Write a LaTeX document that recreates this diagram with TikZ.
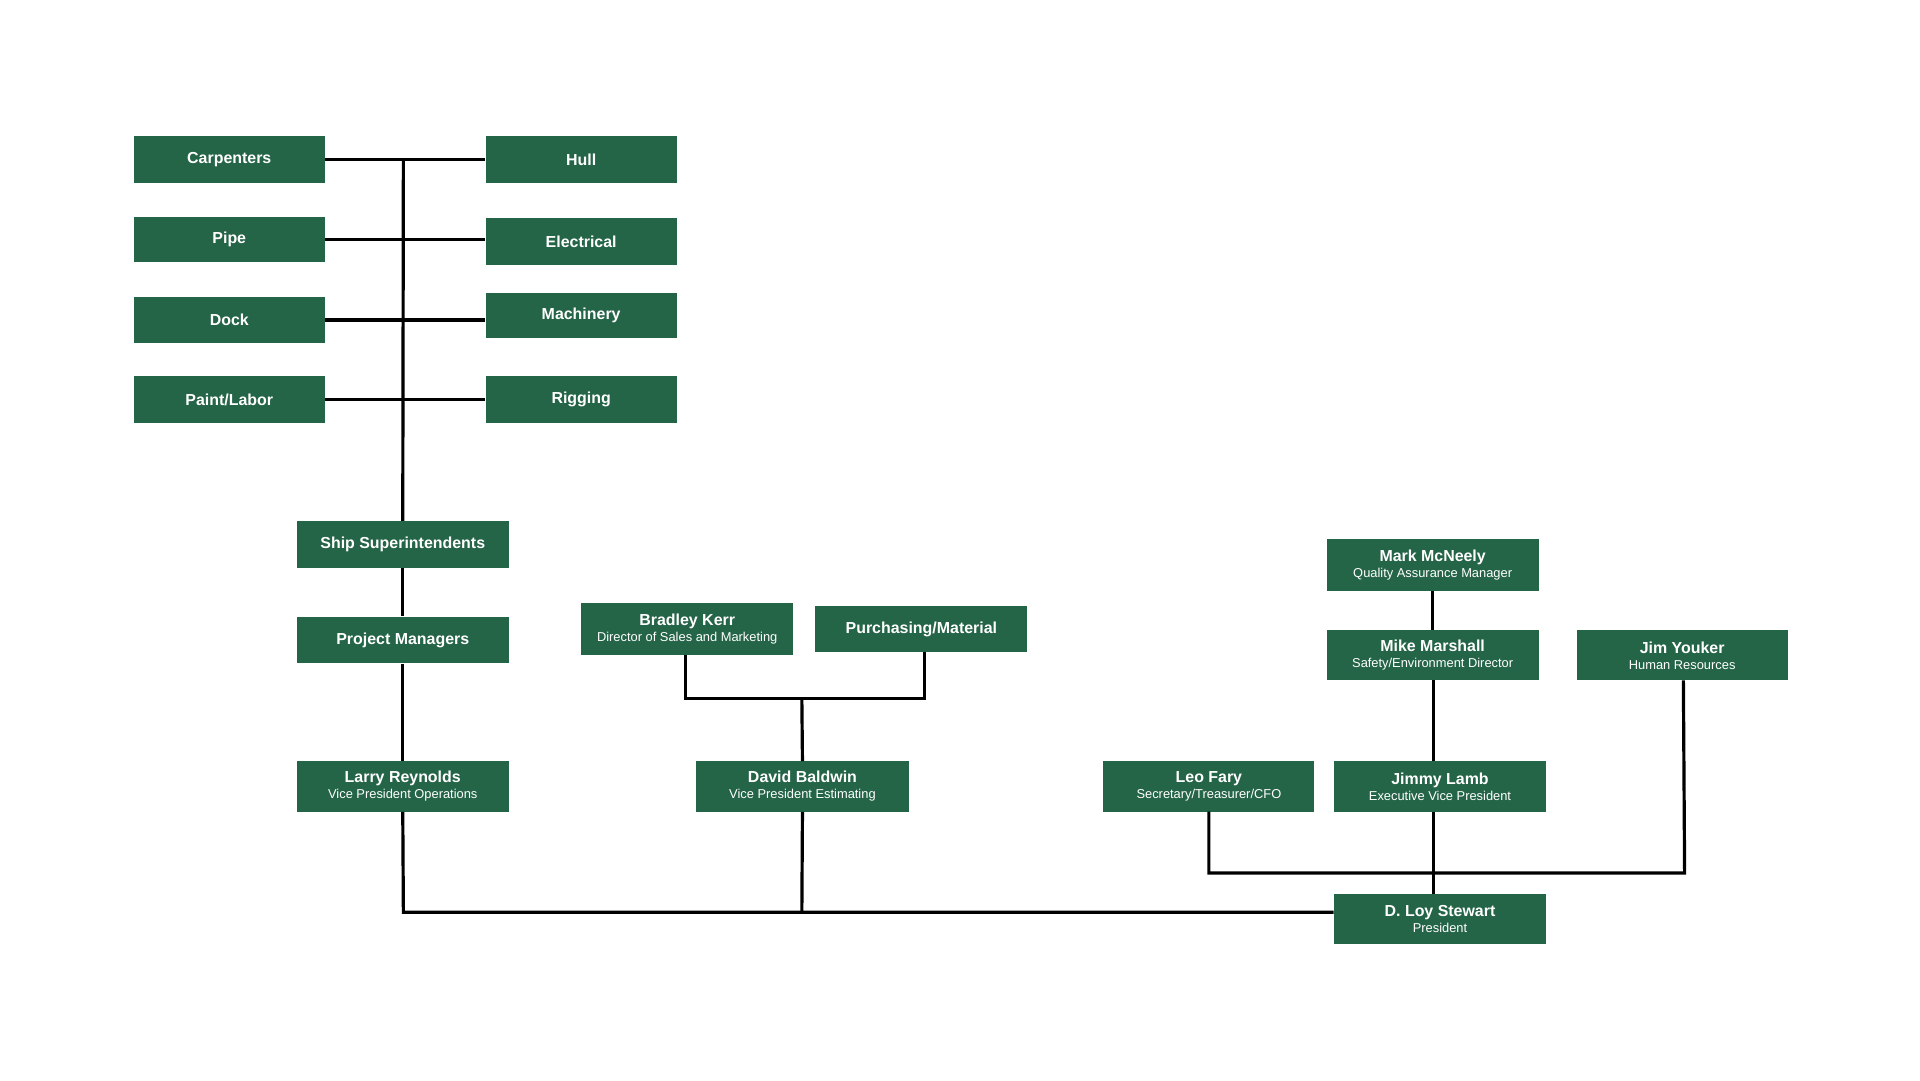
\documentclass[tikz,border=0pt]{standalone}
\usepackage{fontspec}
\setmainfont{Liberation Sans}
\definecolor{bx}{HTML}{246447}
\begin{document}
\begin{tikzpicture}[x=1pt,y=-1pt,
  box/.style={fill=bx,text=white,inner sep=0pt,align=center},
  ln/.style={line width=2.6pt,black}]
\useasboundingbox (0,0) rectangle (1566,881);
\newcommand{\obox}[6]{\node[box,minimum width={#4-#2},minimum height={#5-#3}] (#1) at ({(#2+#4)/2},{(#3+#5)/2}) {#6};}
\newcommand{\twol}[2]{{\fontsize{13}{15}\selectfont\bfseries #1}\\[1pt]{\fontsize{10.5}{12}\selectfont #2}}
\newcommand{\onel}[1]{\fontsize{13}{15}\selectfont\bfseries #1}
\obox{carp}{109}{111}{265}{149}{\onel{Carpenters}}
\obox{hull}{396}{111}{552}{149}{\onel{Hull}}
\obox{pipe}{109}{177}{265}{214}{\onel{Pipe}}
\obox{elec}{396}{178}{552}{216}{\onel{Electrical}}
\obox{dock}{109}{242}{265}{280}{\onel{Dock}}
\obox{mach}{396}{239}{552}{276}{\onel{Machinery}}
\obox{paint}{109}{307}{265}{345}{\onel{Paint/Labor}}
\obox{rig}{396}{307}{552}{345}{\onel{Rigging}}
\obox{ship}{242}{425}{415}{463}{\onel{Ship Superintendents}}
\obox{pm}{242}{503}{415}{541}{\onel{Project Managers}}
\obox{larry}{242}{621}{415}{662}{\twol{Larry Reynolds}{Vice President Operations}}
\obox{brad}{474}{492}{647}{534}{\twol{Bradley Kerr}{Director of Sales and Marketing}}
\obox{purch}{665}{494}{838}{532}{\onel{Purchasing/Material}}
\obox{david}{568}{621}{741}{662}{\twol{David Baldwin}{Vice President Estimating}}
\obox{leo}{900}{621}{1072}{662}{\twol{Leo Fary}{Secretary/Treasurer/CFO}}
\obox{jimmy}{1088}{621}{1261}{662}{\twol{Jimmy Lamb}{Executive Vice President}}
\obox{loy}{1088}{729}{1261}{770}{\twol{D. Loy Stewart}{President}}
\obox{mark}{1082}{440}{1255}{482}{\twol{Mark McNeely}{Quality Assurance Manager}}
\obox{mike}{1082}{514}{1255}{555}{\twol{Mike Marshall}{Safety/Environment Director}}
\obox{jim}{1286}{514}{1458}{555}{\twol{Jim Youker}{Human Resources}}
\coordinate (tr) at (329,131);
\draw[ln] (carp.east) -- (hull.west);
\draw[ln] (pipe.east) -- (pipe.east -| elec.west);
\draw[ln] (dock.east) -- (dock.east -| mach.west);
\draw[ln] (paint.east) -- (rig.west);
\draw[ln] (tr) -- (ship.north);
\draw[ln] (ship.south) -- (pm.north);
\draw[ln] (pm.south) -- (larry.north);
\draw[ln] (larry.south) -- (329,744) -- (loy.west |- 0,744);
\draw[ln] (david.south) -- (654,744);
\draw[ln] (559,534) -- (559,570) -- (754,570) -- (754,532);
\draw[ln] (david.north) -- (654,570);
\draw[ln] (mark.south) -- (mike.north);
\draw[ln] (1169,555) -- (1169,621);
\draw[ln] (1169,662) -- (1169,729);
\draw[ln] (986,662) -- (986,712) -- (1374,712) -- (1373,555);
\end{tikzpicture}
\end{document}
